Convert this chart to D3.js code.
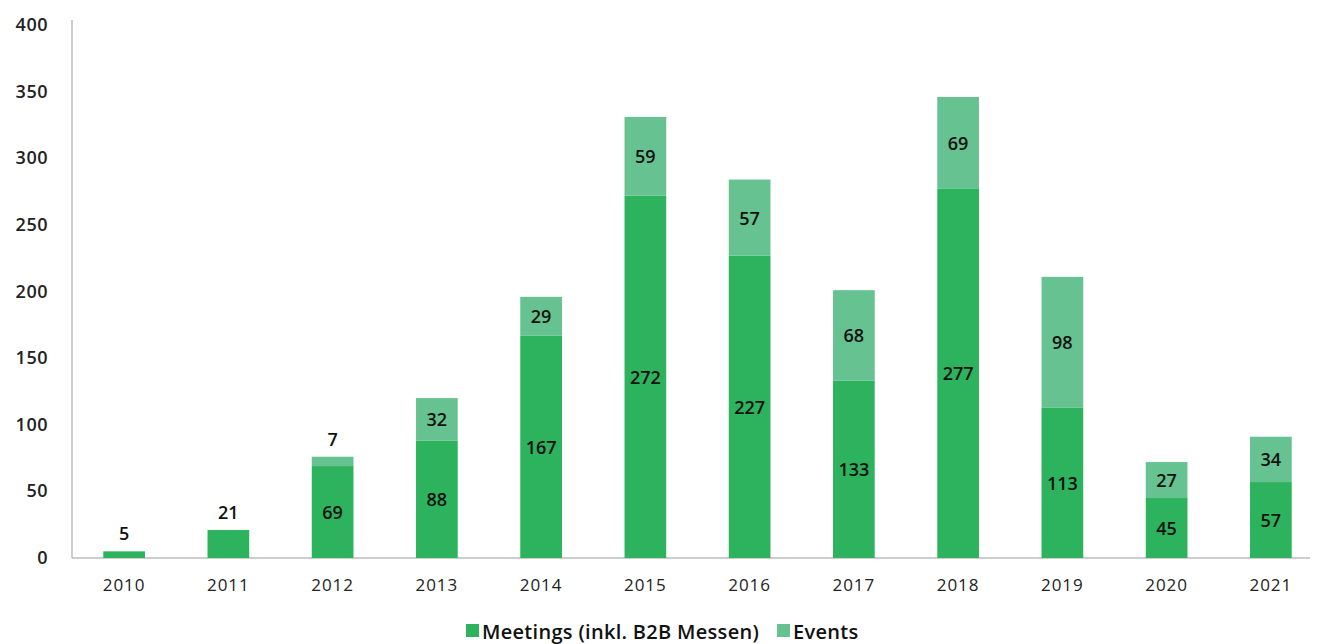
<!DOCTYPE html>
<html>
<head>
<meta charset="utf-8">
<title>Meetings und Events</title>
<script src="https://cdn.jsdelivr.net/npm/d3@7"></script>
<style>
  body { margin: 0; background: #fff; }
  text { font-family: "Open Sans", "Noto Sans", sans-serif; }
</style>
</head>
<body>
<div id="app"></div>
<script>
// data
var years = ["2010", "2011", "2012", "2013", "2014", "2015", "2016", "2017", "2018", "2019", "2020", "2021"];
var meetings = [5, 21, 69, 88, 167, 272, 227, 133, 277, 113, 45, 57];
var events = [0, 0, 7, 32, 29, 59, 57, 68, 69, 98, 27, 34];
var yTicks = [0, 50, 100, 150, 200, 250, 300, 350, 400];
var seriesNames = ["Meetings (inkl. B2B Messen)", "Events"];

var W = 1321, H = 644;
var colors = ["#2db35d", "#66c290"];

var svg = d3.select("#app").append("svg").attr("width", W).attr("height", H);

var x = d3.scaleBand().domain(years).range([72, 1323]).paddingInner(0.6).paddingOuter(0.3);
var y = d3.scaleLinear().domain([0, 400]).range([558, 25]);

// axes lines
svg.append("line").attr("x1", 72).attr("x2", 72).attr("y1", 20).attr("y2", y(0))
  .attr("stroke", "#bdbdbd").attr("stroke-width", 1.5);
svg.append("line").attr("x1", 72).attr("x2", 1310).attr("y1", y(0)).attr("y2", y(0))
  .attr("stroke", "#bdbdbd").attr("stroke-width", 1.5);

// y ticks
svg.selectAll(".ytick").data(yTicks).enter().append("text")
  .attr("x", 48).attr("y", function (d) { return y(d) + 6; })
  .attr("text-anchor", "end").attr("font-size", 18).attr("font-weight", 600)
  .attr("letter-spacing", 0.5).attr("fill", "#222")
  .text(function (d) { return d; });

// x labels
svg.selectAll(".xlab").data(years).enter().append("text")
  .attr("x", function (d) { return x(d) + x.bandwidth() / 2; })
  .attr("y", 591).attr("text-anchor", "middle").attr("font-size", 17)
  .attr("letter-spacing", 1).attr("fill", "#222")
  .text(function (d) { return d; });

var table = years.map(function (yr, i) { return { year: yr, m: meetings[i], e: events[i] }; });
var stack = d3.stack().keys(["m", "e"])(table);

svg.selectAll(".layer").data(stack).enter().append("g")
  .attr("fill", function (d, i) { return colors[i]; })
  .selectAll("rect").data(function (d) { return d; }).enter().append("rect")
  .attr("x", function (d) { return x(d.data.year); })
  .attr("width", x.bandwidth())
  .attr("y", function (d) { return y(d[1]); })
  .attr("height", function (d) { return y(d[0]) - y(d[1]); });

// value labels
stack.forEach(function (layer) {
  layer.forEach(function (d) {
    var v = d[1] - d[0];
    if (v <= 0) return;
    var h = y(d[0]) - y(d[1]);
    var cx = x(d.data.year) + x.bandwidth() / 2;
    var ty = h < 30 ? y(d[1]) - 11 : (y(d[0]) + y(d[1])) / 2 + 7;
    svg.append("text").attr("x", cx).attr("y", ty)
      .attr("text-anchor", "middle").attr("font-size", 18).attr("font-weight", 600)
      .attr("fill", "#111").text(v);
  });
});

// legend
var lg = svg.append("g");
var lx = [466, 777];
seriesNames.forEach(function (n, i) {
  lg.append("rect").attr("x", lx[i]).attr("y", 624).attr("width", 13).attr("height", 13).attr("fill", colors[i]);
  lg.append("text").attr("x", lx[i] + 16).attr("y", 639).attr("font-size", 20)
    .attr("font-weight", 600).attr("letter-spacing", 0.3).attr("fill", "#111").text(n);
});
</script>
</body>
</html>
